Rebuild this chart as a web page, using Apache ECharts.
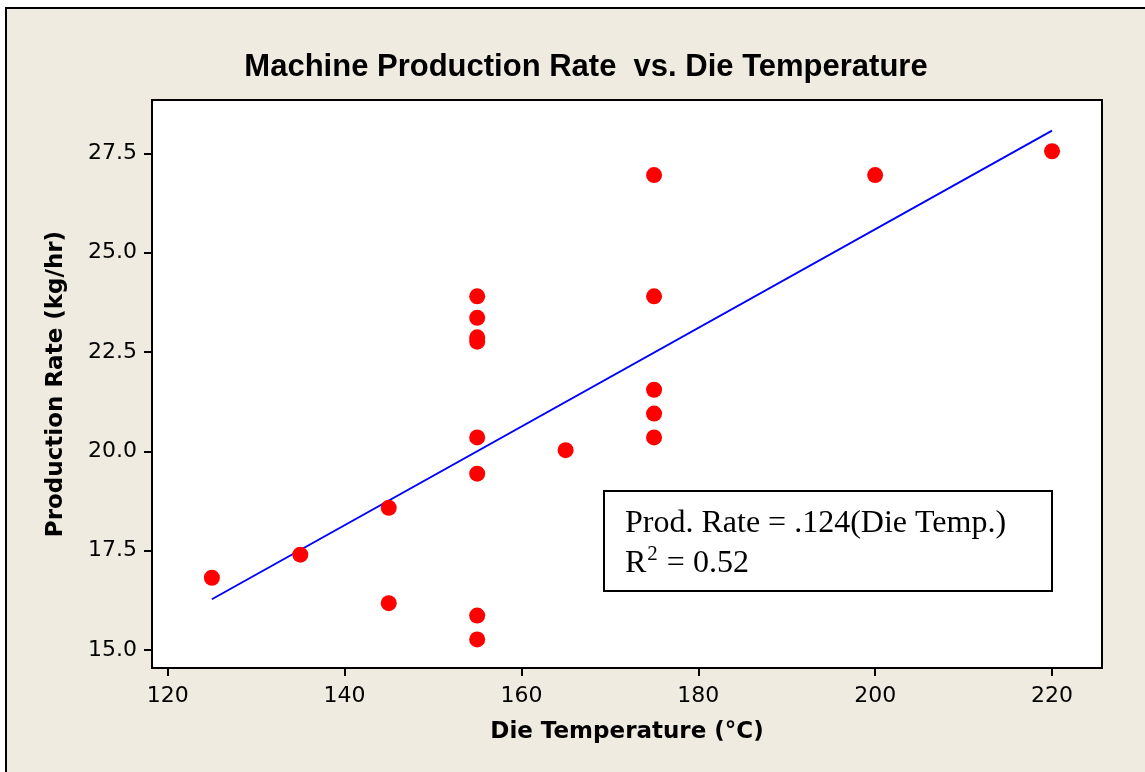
<!DOCTYPE html>
<html>
<head>
<meta charset="utf-8">
<script src="https://cdn.jsdelivr.net/npm/echarts@6/dist/echarts.min.js"></script>
<style>
html,body{margin:0;padding:0;background:#ffffff;}
#chart{width:1145px;height:772px;}
</style>
</head>
<body>
<div id="chart"></div>
<script>
// Data
const dieTemp = [125, 135, 145, 145, 155, 155, 155, 155, 155, 155, 155, 155, 165, 175, 175, 175, 175, 175, 200, 220];
const prodRate = [16.82, 17.4, 18.58, 16.18, 23.9, 23.36, 22.87, 22.76, 20.35, 19.44, 15.87, 15.27, 20.03, 26.95, 23.9, 21.55, 20.95, 20.35, 26.95, 27.55];
const fitTemp = [125, 220];
const fitRate = [16.28, 28.07];
const xTicks = [120, 140, 160, 180, 200, 220];
const yTicks = [15, 17.5, 20, 22.5, 25, 27.5];
const titleText = 'Machine Production Rate  vs. Die Temperature';
const xName = 'Die Temperature (°C)';
const yName = 'Production Rate (kg/hr)';
const eqLine1 = 'Prod. Rate = .124(Die Temp.)';
const eqR2 = '0.52';

const points = dieTemp.map((t, i) => [t, prodRate[i]]);
const fit = fitTemp.map((t, i) => [t, fitRate[i]]);
const serif = '"Liberation Serif", "Times New Roman", serif';

const chart = echarts.init(document.getElementById('chart'), null, {renderer: 'canvas'});
chart.setOption({
  animation: false,
  backgroundColor: 'transparent',
  graphic: [
    {
      type: 'rect', z: -10, silent: true,
      shape: {x: 6, y: 8, width: 1160, height: 790},
      style: {fill: '#efebe1', stroke: '#000000', lineWidth: 2}
    },
    {
      type: 'group', z: 100, left: 603, top: 490,
      children: [
        {type: 'rect', shape: {x: 0, y: 0, width: 448, height: 100},
          style: {fill: '#ffffff', stroke: '#000000', lineWidth: 2}},
        {type: 'text', x: 21, y: 33,
          style: {text: eqLine1, font: '32px ' + serif, fill: '#000', verticalAlign: 'middle'}},
        {type: 'text', x: 21, y: 71,
          style: {
            text: '{a|R}{s|2}{a| = ' + eqR2 + '}',
            verticalAlign: 'middle',
            rich: {
              a: {fontFamily: 'Liberation Serif', fontSize: 32, lineHeight: 36, fill: '#000', verticalAlign: 'bottom'},
              s: {fontFamily: 'Liberation Serif', fontSize: 21, lineHeight: 36, fill: '#000', verticalAlign: 'top', padding: [0, 1, 4, 1]}
            }
          }}
      ]
    }
  ],
  title: {
    text: titleText,
    left: 581,
    textAlign: 'center',
    top: 47,
    textStyle: {
      fontFamily: '"Liberation Sans Narrow", "Arial Narrow", "Liberation Sans", sans-serif',
      fontWeight: 'bold', fontSize: 31, color: '#000'
    }
  },
  grid: {
    left: 152, top: 100, right: 43, bottom: 104,
    show: true, backgroundColor: '#ffffff', borderColor: '#000000', borderWidth: 2
  },
  xAxis: {
    type: 'value', min: 118.23, max: 225.65,
    name: xName, nameLocation: 'middle', nameGap: 53,
    nameTextStyle: {fontFamily: '"DejaVu Sans", sans-serif', fontWeight: 'bold', fontSize: 23, color: '#000'},
    axisLine: {show: true, onZero: false, lineStyle: {color: '#000', width: 2}},
    axisTick: {show: true, length: 8, lineStyle: {color: '#000', width: 2}, customValues: xTicks},
    axisLabel: {fontFamily: '"DejaVu Sans", sans-serif', fontSize: 22, color: '#000', margin: 17,
      customValues: xTicks, showMinLabel: true, showMaxLabel: true},
    splitLine: {show: false}
  },
  yAxis: {
    type: 'value', min: 14.55, max: 28.84,
    name: yName, nameLocation: 'middle', nameGap: 84,
    nameTextStyle: {fontFamily: '"DejaVu Sans", sans-serif', fontWeight: 'bold', fontSize: 23, color: '#000'},
    axisLine: {show: true, onZero: false, lineStyle: {color: '#000', width: 2}},
    axisTick: {show: true, length: 8, lineStyle: {color: '#000', width: 2}, customValues: yTicks},
    axisLabel: {fontFamily: '"DejaVu Sans", sans-serif', fontSize: 22, color: '#000', margin: 15,
      customValues: yTicks, showMinLabel: true, showMaxLabel: true, formatter: v => v.toFixed(1)},
    splitLine: {show: false}
  },
  series: [
    {
      type: 'line', data: fit, symbol: 'none', silent: true,
      lineStyle: {color: '#0000ff', width: 1.9}, z: 3
    },
    {
      type: 'scatter', data: points, symbol: 'circle', symbolSize: 16,
      itemStyle: {color: '#ff0000', opacity: 1}, z: 4
    }
  ]
});
</script>
</body>
</html>
